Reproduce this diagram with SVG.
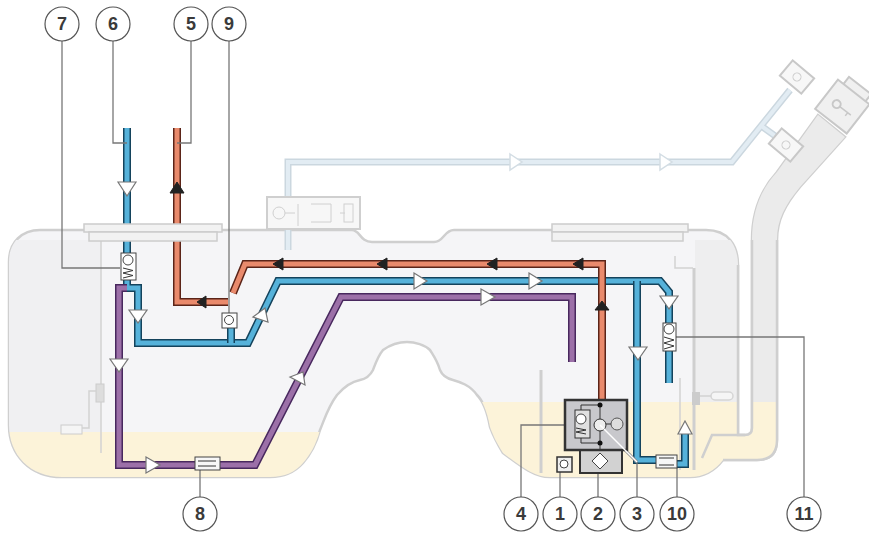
<svg xmlns="http://www.w3.org/2000/svg" width="869" height="535" viewBox="0 0 869 535">
<style>
text{font-family:"Liberation Sans",Arial,sans-serif;font-weight:700;font-size:18px;fill:#3a3a3a;text-anchor:middle}
.c{fill:#fff;stroke:#555;stroke-width:1.2}
.l{fill:none;stroke:#777;stroke-width:1.3}
.g{fill:none;stroke:#d2d2d2;stroke-width:1.5}
.gt{fill:none;stroke:#cfcfcf;stroke-width:3}
.bo{fill:none;stroke:#14435c;stroke-width:8}
.bi{fill:none;stroke:#56b2da;stroke-width:5}
.ro{fill:none;stroke:#5b2418;stroke-width:8}
.ri{fill:none;stroke:#e98a6c;stroke-width:5}
.po{fill:none;stroke:#48285e;stroke-width:8}
.pi{fill:none;stroke:#9c70a8;stroke-width:5}
.fo{fill:none;stroke:#cbd7df;stroke-width:7}
.fi{fill:none;stroke:#e2ecf3;stroke-width:4}
.a{fill:#fff;stroke:#777;stroke-width:1.2}
.k{fill:#222;stroke:#222}
.v{fill:#fff;stroke:#444;stroke-width:1}
.t{fill:none;stroke:#333;stroke-width:1}
.u{fill:#f2f2f2;stroke:#ccc;stroke-width:1.5}
</style>
<defs>
<clipPath id="tankclip"><path d="M40 230H352C360 230 360 242 372 242H434C444 242 444 230 454 230H706C728 230 738 245 738 265V435H745Q752 435 752 428V240C752 205 765 185 777 172L818 115L845 137L800 187C785 205 777 220 777 240V440Q777 460 757 460H723Q710 477 690 477H550C535 477 523 468 503 453C495 440 493 435 490 427C487 410 482 400 477 395C470 385 460 382 453 380C445 378 442 375 440 370C437 360 433 355 430 350C425 345 415 342 407 342C398 342 390 345 383 350C378 356 376 362 373 370C370 376 365 379 360 380C350 382 343 388 337 395C328 407 325 418 320 430C316 445 310 455 303 463C295 472 285 477 270 477H62C30 477 9 455 9 425V262C9 242 22 230 40 230Z"/></clipPath>
</defs>
<g id="tank">
<path d="M40 230H352C360 230 360 242 372 242H434C444 242 444 230 454 230H706C728 230 738 245 738 265V435H745Q752 435 752 428V240C752 205 765 185 777 172L818 115L845 137L800 187C785 205 777 220 777 240V440Q777 460 757 460H723Q710 477 690 477H550C535 477 523 468 503 453C495 440 493 435 490 427C487 410 482 400 477 395C470 385 460 382 453 380C445 378 442 375 440 370C437 360 433 355 430 350C425 345 415 342 407 342C398 342 390 345 383 350C378 356 376 362 373 370C370 376 365 379 360 380C350 382 343 388 337 395C328 407 325 418 320 430C316 445 310 455 303 463C295 472 285 477 270 477H62C30 477 9 455 9 425V262C9 242 22 230 40 230Z" fill="#f5f5f7" stroke="#cfcfcf" stroke-width="2.500"/>
<g clip-path="url(#tankclip)">
<rect x="9" y="240" width="92" height="192" fill="#f0f0f2"/>
<rect x="695" y="240" width="45" height="162" fill="#eeeeef"/>
<rect x="745" y="100" width="110" height="302" fill="#ebebeb"/>
<rect x="0" y="432" width="330" height="50" fill="#fcf3d9"/>
<rect x="480" y="402" width="300" height="80" fill="#fcf3d9"/>
</g>
<path d="M745 435H712L702 458" fill="none" stroke="#cfcfcf" stroke-width="2.500"/>
<path d="M777 240V440Q777 460 757 460H723M752 240V428Q752 435 745 435H738V265" fill="none" stroke="#cfcfcf" stroke-width="2.500"/>
<path class="g" d="M101 240V453M680 378V470M675 256V268H693"/>
<path class="gt" d="M541 370V473M694 268V470"/>
<rect x="96" y="384" width="8" height="18" fill="#ddd" stroke="#ccc"/>
<rect x="61" y="425" width="21" height="9" fill="#f5f5f5" stroke="#ccc"/>
<path class="g" d="M96 391H89V428H82"/>
<rect x="692" y="392" width="8" height="13" fill="#ccc"/>
<rect x="711" y="392" width="22" height="8" rx="4" fill="#f5f5f5" stroke="#d5d5d5" stroke-width="1.500"/>
<path class="g" d="M700 396H711"/>
</g>
<g id="filler">
<g transform="translate(842 107) rotate(38)" fill="#f0f0f0" stroke="#c8c8c8" stroke-width="2">
<rect x="-13" y="-28" width="28" height="12"/>
<rect x="-20" y="-19" width="40" height="37"/>
<circle cx="-6" cy="1" r="4" fill="none"/>
<path d="M-2 1H12M8 1V5" fill="none" stroke-width="1.500"/>
</g>
</g>
<g id="vent">
<path class="fo" d="M288 250V162H732L790 90"/>
<path class="fo" d="M760 125L778 138"/>
<path class="fi" d="M288 250V162H732L790 90"/>
<path class="fi" d="M760 125L778 138"/>
<path d="M510 154L522 162L510 170Z M660 154L672 162L660 170Z" fill="#fff" stroke="#d3dde4" stroke-width="1.500"/>
<g transform="translate(797 77) rotate(40)"><rect x="-14" y="-10" width="28" height="20" fill="#f7f7f7" stroke="#c8c8c8" stroke-width="2"/><circle r="4" fill="none" stroke="#ccc"/></g>
<g transform="translate(786 145) rotate(40)"><rect x="-14" y="-10" width="28" height="20" fill="#f7f7f7" stroke="#c8c8c8" stroke-width="2"/><circle r="4" fill="none" stroke="#ccc"/></g>
</g>
<g id="module-box">
<rect x="267" y="197" width="93" height="32" fill="#f7f7f7" stroke="#cfcfcf" stroke-width="2"/>
<circle cx="279" cy="213" r="6" fill="none" stroke="#d0d0d0"/>
<path d="M285 213H295M298 204V226M311 204H331V222H311M340 213H345" fill="none" stroke="#d0d0d0"/>
<rect x="344" y="204" width="9" height="18" fill="none" stroke="#d0d0d0"/>
</g>
<g id="connectors">
<path class="bo" d="M127 128V288H138V343H248L278 281H660L669 292V383"/>
<path class="bi" d="M127 128V288H138V343H248L278 281H660L669 292V383"/>
<path class="bo" d="M637 281V460H662M685 434V464H670M231 328V343"/>
<path class="bi" d="M637 281V460H662M685 434V464H670M231 328V343"/>
<path class="ro" d="M177 128V302H228"/>
<path class="ri" d="M177 128V302H228"/>
<path class="ro" d="M233 293L245 264H602V402"/>
<path class="ri" d="M233 293L245 264H602V402"/>
<path class="po" d="M572 362V297H341L255 465H119V288H127"/>
<path class="pi" d="M572 362V297H341L255 465H119V288H127"/>
<path class="a" d="M118 182H136L127 196Z M129 310H147L138 323Z M110 359H128L119 372Z M629 347H647L638 360Z M660 296H678L669 309Z"/>
<path class="a" d="M414 273L427 281L414 289Z M529 273L542 281L529 289Z M481 289L495 297L481 305Z M146 457L160 465L146 473Z M253 317L265 308L268 322Z M290 377L303 372L305 385Z M685 421L692 434H678Z"/>
<path class="k" d="M177 182L170 193H184Z M197 302L206 296V308Z M273 264L283 258V270Z M377 264L387 258V270Z M487 264L497 258V270Z M573 264L583 258V270Z M602 301L595 310H609Z"/>
</g>
<g id="flanges">
<rect x="84" y="224" width="138" height="8" class="u"/>
<rect x="89" y="232" width="128" height="9" class="u"/>
<rect x="552" y="224" width="136" height="8" class="u"/>
<rect x="552" y="232" width="131" height="9" class="u"/>
</g>
<g id="leaders">
<path class="l" d="M62 41V268H120M113 41V143H127M191 41V143H177M229 41V313M200 497V470M560 497V472M598 497V472M677 497V468M804 497V337H675M637 497V462"/>
<path class="l" d="M521 497V425H575"/>
<path fill="none" stroke="#888" stroke-width="3" d="M600 425L637 462"/>
<path fill="none" stroke="#fff" stroke-width="1.500" d="M600 425L637 462"/>
</g>
<g id="part-7"><rect x="121" y="253" width="15" height="27" class="v"/><circle cx="128" cy="260" r="5" class="v"/><path class="t" d="M123 268l10 2.500l-10 2.500l10 2.500l-10 2.500"/></g>
<g id="part-9"><rect x="222" y="313" width="15" height="15" class="v"/><circle cx="229" cy="320" r="4.500" class="v"/></g>
<g id="part-8"><rect x="195" y="457" width="25" height="13" fill="#f7f7f7" stroke="#444"/><path class="t" d="M198 461H216M198 466H216"/></g>
<g id="part-11"><rect x="663" y="323" width="13" height="28" class="v"/><circle cx="669" cy="329" r="5" class="v"/><path class="t" d="M664 337l10 3l-10 3l10 3l-10 3"/></g>
<g id="part-10"><rect x="656" y="455" width="21" height="13" fill="#f7f7f7" stroke="#444"/><path class="t" d="M659 458H674M659 465H674"/></g>
<g id="part-1"><rect x="557" y="457" width="15" height="15" fill="#eee" stroke="#333" stroke-width="1.500"/><circle cx="564" cy="464" r="4" class="v"/></g>
<g id="part-2"><rect x="580" y="450" width="42" height="23" fill="#d2d2d2" stroke="#333" stroke-width="2"/><path d="M600 453L608 461L600 469L592 461Z" class="v"/></g>
<g id="part-3-4">
<rect x="565" y="400" width="62" height="50" fill="#c8c8cc" stroke="#333" stroke-width="2.500"/>
<rect x="575" y="410" width="15" height="28" fill="#e0e0e0" stroke="#333"/>
<circle cx="581" cy="419" r="5" class="v"/>
<path class="t" d="M576 428l10 2l-10 2l10 2M581 405V410M581 405H600M581 438V443H600"/>
<path class="t" d="M600 405V450"/>
<circle cx="600" cy="405" r="2.500" fill="#111"/><circle cx="600" cy="443" r="2.500" fill="#111"/>
<circle cx="600" cy="425" r="6" fill="#eee" stroke="#333"/>
<circle cx="617" cy="424" r="6" fill="#ddd" stroke="#555"/><path class="t" d="M606 424H611"/>
<path fill="none" stroke="#fff" stroke-width="1.500" d="M600 425L627 452"/>
</g>
<g id="callouts">
<g id="n7"><circle class="c" cx="62" cy="24" r="17"/><text x="62" y="30">7</text></g>
<g id="n6"><circle class="c" cx="113" cy="24" r="17"/><text x="113" y="30">6</text></g>
<g id="n5"><circle class="c" cx="191" cy="24" r="17"/><text x="191" y="30">5</text></g>
<g id="n9"><circle class="c" cx="229" cy="24" r="17"/><text x="229" y="30">9</text></g>
<g id="n8"><circle class="c" cx="200" cy="514" r="17"/><text x="200" y="520">8</text></g>
<g id="n4"><circle class="c" cx="521" cy="514" r="17"/><text x="521" y="520">4</text></g>
<g id="n1"><circle class="c" cx="560" cy="514" r="17"/><text x="560" y="520">1</text></g>
<g id="n2"><circle class="c" cx="598" cy="514" r="17"/><text x="598" y="520">2</text></g>
<g id="n3"><circle class="c" cx="637" cy="514" r="17"/><text x="637" y="520">3</text></g>
<g id="n10"><circle class="c" cx="677" cy="514" r="17"/><text x="677" y="520">10</text></g>
<g id="n11"><circle class="c" cx="804" cy="514" r="17"/><text x="804" y="520">11</text></g>
</g>
</svg>
